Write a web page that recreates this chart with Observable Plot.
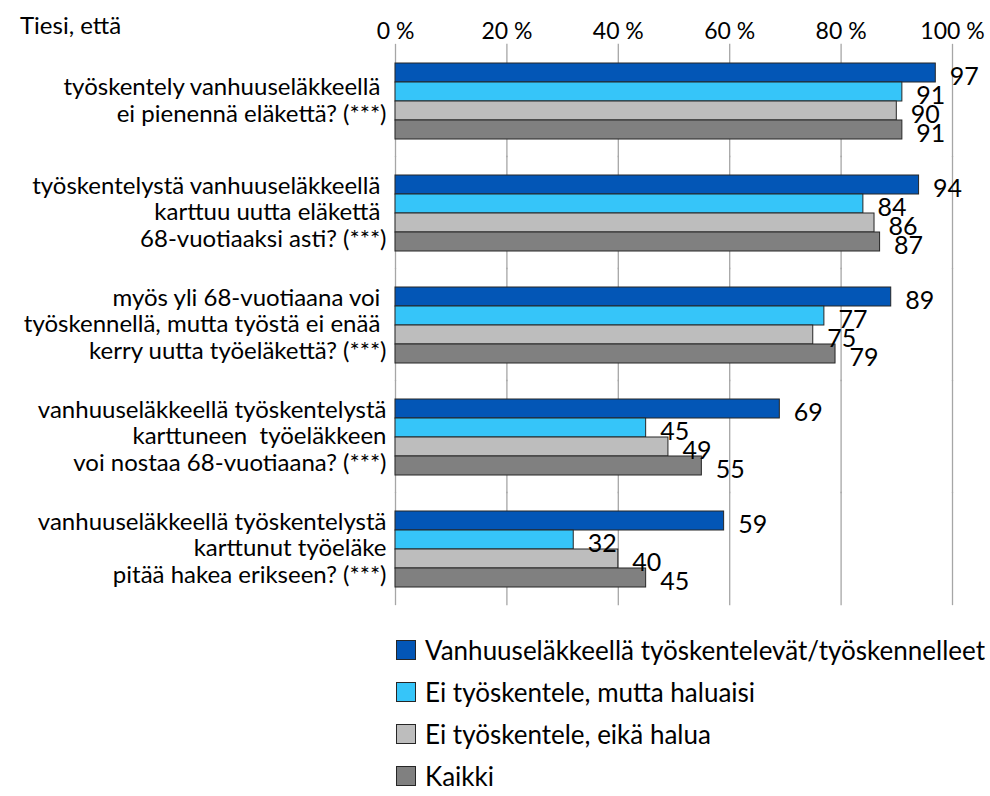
<!DOCTYPE html>
<html>
<head>
<meta charset="utf-8">
<script src="https://cdn.jsdelivr.net/npm/d3@7"></script>
<script src="https://cdn.jsdelivr.net/npm/@observablehq/plot@0.6"></script>
<style>
  html, body { margin: 0; padding: 0; background: #fff; }
  body { width: 990px; height: 796px; position: relative; font-family: Lato, "Open Sans", sans-serif; color: #000; }
  #title { position: absolute; left: 20px; top: 13px; font-size: 24px; line-height: 1; }
  #legend { margin-left: 396px; margin-top: 14px; font-size: 26px; }
  .row { display: flex; align-items: center; height: 42px; }
  .sw { width: 18px; height: 18px; border: 1px solid #262626; margin-right: 9px; box-sizing: content-box; }
</style>
</head>
<body>
<div id="title">Tiesi, että</div>
<div id="chart"></div>
<div id="legend"></div>
<script>
const categories = [
  "työskentely vanhuuseläkkeellä\u00a0\nei pienennä eläkettä? (***)",
  "työskentelystä vanhuuseläkkeellä\u00a0\nkarttuu uutta eläkettä\u00a0\n68-vuotiaaksi asti? (***)",
  "myös yli 68-vuotiaana voi\u00a0\ntyöskennellä, mutta työstä ei enää\u00a0\nkerry uutta työeläkettä? (***)",
  "vanhuuseläkkeellä työskentelystä\nkarttuneen  työeläkkeen\nvoi nostaa 68-vuotiaana? (***)",
  "vanhuuseläkkeellä työskentelystä\nkarttunut työeläke\npitää hakea erikseen? (***)"
];
const series = [
  "Vanhuuseläkkeellä työskentelevät/työskennelleet",
  "Ei työskentele, mutta haluaisi",
  "Ei työskentele, eikä halua",
  "Kaikki"
];
const working = [97, 94, 89, 69, 59];
const wantsTo = [91, 84, 77, 45, 32];
const doesNotWant = [90, 86, 75, 49, 40];
const all = [91, 87, 79, 55, 45];
const xTicks = [0, 20, 40, 60, 80, 100];
const colors = ["#0356B6", "#36C5F9", "#BDBDBD", "#808080"];

const valuesBySeries = [working, wantsTo, doesNotWant, all];
const data = categories.flatMap((c, i) =>
  series.map((s, j) => ({category: c, series: s, value: valuesBySeries[j][i]}))
);

const padIn = 0.314, padOut = 0.157;
const height = 615, marginTop = 43, marginBottom = 10;
const step = (height - marginTop - marginBottom) / (categories.length - padIn + 2 * padOut);
const halfGap = step * padIn / 2;

const chart = Plot.plot({
  width: 990,
  height,
  marginLeft: 395,
  marginRight: 38,
  marginTop,
  marginBottom,
  style: {fontFamily: "Lato, sans-serif", fontSize: "24px", color: "#000", background: "#fff", overflow: "visible"},
  x: {domain: [0, 100]},
  fy: {domain: categories, paddingInner: padIn, paddingOuter: padOut, axis: null},
  y: {domain: series, padding: 0, axis: null},
  color: {domain: series, range: colors},
  marks: [
    Plot.ruleX(xTicks, {stroke: "#a6a6a6", strokeWidth: 1.3, insetTop: -halfGap - 0.5, insetBottom: -halfGap - 0.5}),
    Plot.barX(data, {fy: "category", y: "series", x: "value", fill: "series", stroke: "#262626", strokeWidth: 1}),
    Plot.text(data, {fy: "category", y: "series", x: "value", text: d => String(d.value), textAnchor: "start", dx: 14, dy: 4, fontSize: 25, fill: "#000"}),
    Plot.text(categories, {fy: d => d, text: d => d, frameAnchor: "left", textAnchor: "end", lineAnchor: "middle", dx: -9, dy: -1, lineHeight: 1.1, fontSize: 24, fill: "#000"}),
    Plot.axisX({anchor: "top", ticks: xTicks, tickFormat: d => `${d} %`, tickSize: 0, tickPadding: 24, fontSize: 23, fill: "#000", label: null})
  ]
});
document.getElementById("chart").appendChild(chart);

const legend = document.getElementById("legend");
series.forEach((s, i) => {
  const row = document.createElement("div");
  row.className = "row";
  const sw = document.createElement("div");
  sw.className = "sw";
  sw.style.background = colors[i];
  const label = document.createElement("span");
  label.textContent = s;
  row.appendChild(sw);
  row.appendChild(label);
  legend.appendChild(row);
});
</script>
</body>
</html>
